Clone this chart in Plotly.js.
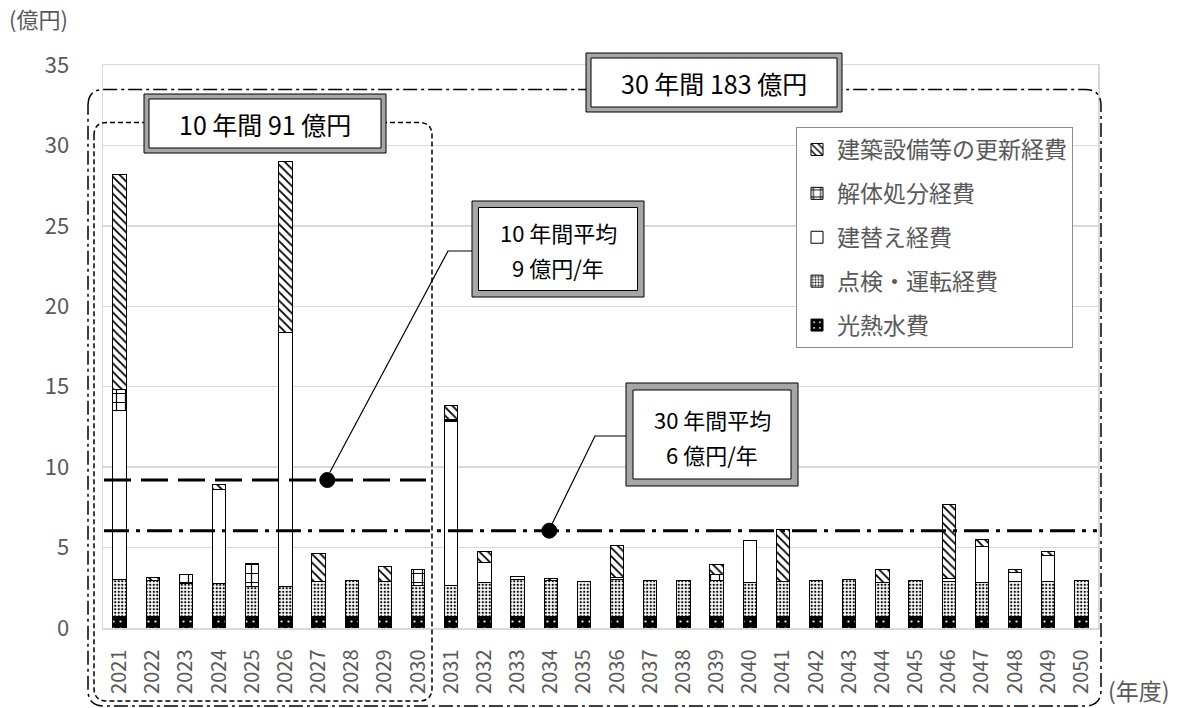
<!DOCTYPE html>
<html>
<head>
<meta charset="utf-8">
<script src="https://cdn.plot.ly/plotly-3.0.1.min.js"></script>
<style>html,body{margin:0;padding:0;background:#fff;}#chart{width:1184px;height:708px;}</style>
</head>
<body>
<div id="chart"></div>
<script>
// ---- data ----
const years = ['2021','2022','2023','2024','2025','2026','2027','2028','2029','2030',
               '2031','2032','2033','2034','2035','2036','2037','2038','2039','2040',
               '2041','2042','2043','2044','2045','2046','2047','2048','2049','2050'];
const utility   = [0.7,0.7,0.7,0.7,0.7,0.7,0.7,0.7,0.7,0.7, 0.7,0.7,0.7,0.7,0.7,0.7,0.7,0.7,0.7,0.7, 0.7,0.7,0.7,0.7,0.7,0.7,0.7,0.7,0.7,0.7];
const inspection= [2.3,2.25,2.05,2.05,1.85,1.85,2.2,2.25,2.2,1.95, 1.95,2.15,2.3,2.25,2.2,2.3,2.25,2.25,2.25,2.15, 2.2,2.25,2.3,2.15,2.25,2.2,2.15,2.2,2.2,2.25];
const rebuild   = [10.5,null,null,5.85,null,15.8,null,null,null,null, 10.2,1.25,0.2,null,null,0.15,null,null,null,2.6, null,null,null,null,null,0.15,2.2,0.55,1.6,null];
const demolition= [1.3,null,0.55,null,1.45,null,null,null,null,1.0, 0.1,null,null,null,null,null,null,null,0.35,null, null,null,null,null,null,null,null,null,null,null];
const renewal   = [13.4,0.2,null,0.3,null,10.65,1.75,null,0.9,null, 0.9,0.65,null,0.1,null,1.95,null,null,0.65,null, 3.2,null,null,0.8,null,4.65,0.45,0.2,0.25,null];
const seriesNames = ['光熱水費','点検・運転経費','建替え経費','解体処分経費','建築設備等の更新経費'];
const avg10 = 9.2;   // 10年間平均
const avg30 = 6.05;  // 30年間平均
const yTicks = [0,5,10,15,20,25,30,35];

// ---- geometry helpers (pixel -> paper) ----
const L=103, R=1098, T=65, B=628;
const px = x => (x-L)/(R-L);
const py = y => (B-y)/(B-T);

const FONT = '"Noto Sans CJK JP", "Noto Sans", sans-serif';
const GRAY = '#595959';

function bar(name, vals, pattern, color, grp, rank){
  return {type:'bar', name:name, x:years, y:vals, legendgroup:grp, legendrank:rank,
    marker:{color:color, line:{color:'#000', width:1}, pattern:pattern},
    hoverinfo:'skip'};
}
const traces = [
  bar(seriesNames[0], utility, {shape:'.', fgcolor:'#fff', bgcolor:'#000', size:7, solidity:0.08}, '#000','g1',5),
  bar(seriesNames[1], inspection, {shape:'.', fgcolor:'#000', bgcolor:'#fff', size:3.5, solidity:0.35}, '#fff','g2',4),
  bar(seriesNames[2], rebuild, {shape:''}, '#fff','g3',3),
  bar(seriesNames[3], demolition, {shape:'+', fgcolor:'#000', bgcolor:'#fff', size:9, solidity:0.25}, '#fff','g4',2),
  bar(seriesNames[4], renewal, {shape:'\\', fgcolor:'#000', bgcolor:'#fff', size:6, solidity:0.3}, '#fff','g5',1)
];

function roundRect(x0,y0,x1,y1,r){
  const X=px, Y=py;
  return 'M'+X(x0)+','+Y(y0+r)+
    ' Q'+X(x0)+','+Y(y0)+' '+X(x0+r)+','+Y(y0)+
    ' L'+X(x1-r)+','+Y(y0)+
    ' Q'+X(x1)+','+Y(y0)+' '+X(x1)+','+Y(y0+r)+
    ' L'+X(x1)+','+Y(y1-r)+
    ' Q'+X(x1)+','+Y(y1)+' '+X(x1-r)+','+Y(y1)+
    ' L'+X(x0+r)+','+Y(y1)+
    ' Q'+X(x0)+','+Y(y1)+' '+X(x0)+','+Y(y1-r)+' Z';
}
function dblBox(x0,y0,x1,y1,band){
  return [
    {type:'rect', xref:'paper', yref:'paper', x0:px(x0), x1:px(x1), y0:py(y0), y1:py(y1),
     fillcolor:'#a6a6a6', line:{color:'#000', width:1}, layer:'above'},
    {type:'rect', xref:'paper', yref:'paper', x0:px(x0+band), x1:px(x1-band), y0:py(y0+band), y1:py(y1-band),
     fillcolor:'#fff', line:{color:'#000', width:1}, layer:'above'}
  ];
}
function leader(pts){
  let s='';
  pts.forEach((p,i)=>{ s += (i?' L':'M')+px(p[0])+','+py(p[1]); });
  return {type:'path', xref:'paper', yref:'paper', path:s, line:{color:'#000', width:1.2}, layer:'above'};
}
function dot(xp, yv){
  return {type:'circle', xref:'paper', yref:'y', xsizemode:'pixel', ysizemode:'pixel',
    xanchor:px(xp), yanchor:yv, x0:-7.5, x1:7.5, y0:-7.5, y1:7.5,
    fillcolor:'#000', line:{color:'#000', width:1}, layer:'above'};
}

const shapes = [
  {type:'path', xref:'paper', yref:'paper', path:roundRect(88,89.5,1101,706,16), line:{color:'#000', width:1.5, dash:'14px,4px,3px,4px'}, layer:'above'},
  {type:'path', xref:'paper', yref:'paper', path:roundRect(94,122.5,432,701,13), line:{color:'#000', width:1.5, dash:'5px,3px'}, layer:'above'},
  {type:'line', xref:'paper', yref:'y', x0:px(104), x1:px(426), y0:avg10, y1:avg10, line:{color:'#000', width:3, dash:'27px,10px'}, layer:'above'},
  {type:'line', xref:'paper', yref:'y', x0:px(104), x1:px(1097), y0:avg30, y1:avg30, line:{color:'#000', width:3, dash:'25px,7px,4px,7px'}, layer:'above'},
  leader([[330,472],[448,251],[473,251]]),
  leader([[552,524],[595,436],[626,436]]),
  dot(327.3, avg10),
  dot(549.3, avg30),
  ...dblBox(586,53,842,112,5),
  ...dblBox(144,94,386,153,5),
  ...dblBox(472,201,644,297,6.5),
  ...dblBox(626,383,798,486,7)
];

const annFont = {family:FONT, size:25, color:'#000'};
const boxFont = {family:FONT, size:22, color:'#000'};
function txt(x, y, t, f, anchor){
  return {xref:'paper', yref:'paper', x:px(x), y:py(y), text:t, showarrow:false, font:f,
          xanchor:anchor||'center', yanchor:'middle'};
}
const annotations = [
  txt(714, 82.5, '30 年間 183 億円', annFont),
  txt(265, 123.5, '10 年間 91 億円', annFont),
  txt(558, 232, '10 年間平均', boxFont),
  txt(558, 267, '9 億円/年', boxFont),
  txt(712, 419, '30 年間平均', boxFont),
  txt(712, 454, '6 億円/年', boxFont),
  txt(7, 18, '(億円)', {family:FONT, size:22, color:GRAY}, 'left'),
  txt(1106, 690, '(年度)', {family:FONT, size:23, color:GRAY}, 'left')
];

const layout = {
  width:1184, height:708,
  margin:{l:L, r:1184-R, t:T, b:708-B, pad:0},
  paper_bgcolor:'#fff', plot_bgcolor:'#fff',
  barmode:'stack', bargap:0.6,
  font:{family:FONT, color:GRAY},
  showlegend:true,
  legend:{x:px(796), y:py(127), xanchor:'left', yanchor:'top',
    bgcolor:'#fff', bordercolor:'#8c8c8c', borderwidth:1,
    font:{family:FONT, size:23, color:GRAY}, traceorder:'grouped',
    tracegroupgap:11, itemwidth:30},
  xaxis:{type:'category', tickangle:-90, tickfont:{family:FONT, size:20, color:GRAY},
    showgrid:false, showline:true, linecolor:'#d9d9d9', linewidth:1.5, mirror:true,
    ticks:'', ticklabelstandoff:12, fixedrange:true},
  yaxis:{range:[0,35], tickvals:yTicks, ticktext:yTicks.map(String),
    tickfont:{family:FONT, size:22, color:GRAY}, showgrid:true, gridcolor:'#d9d9d9', gridwidth:1.5,
    showline:true, linecolor:'#d9d9d9', linewidth:1.5, mirror:true, zeroline:false,
    ticks:'', ticklabelstandoff:28, fixedrange:true},
  shapes:shapes,
  annotations:annotations
};

Plotly.newPlot('chart', traces, layout, {displayModeBar:false, staticPlot:true});
</script>
</body>
</html>
